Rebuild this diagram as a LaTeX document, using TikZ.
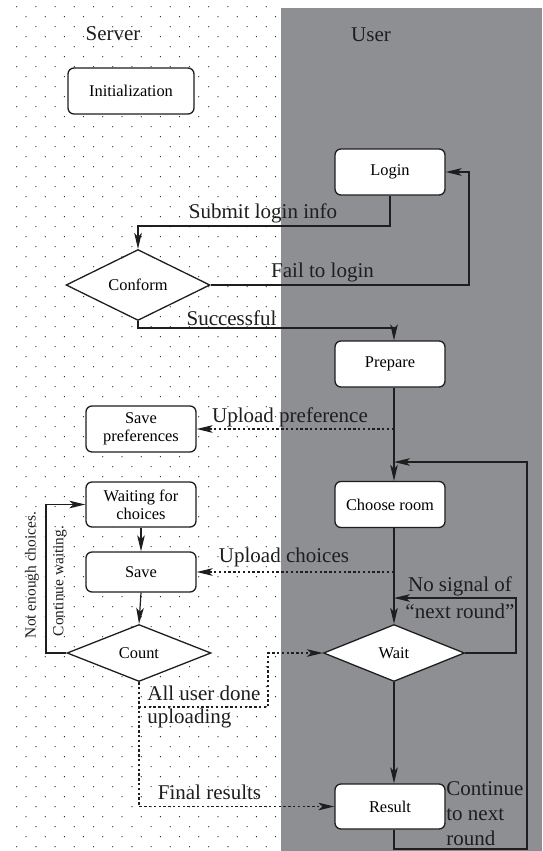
\documentclass[tikz,border=0pt]{standalone}
\usepackage{fontspec}
\setmainfont{Liberation Serif}
\usetikzlibrary{shapes.geometric,arrows.meta}

\definecolor{lanegray}{RGB}{142,143,147}
\definecolor{inkgray}{RGB}{30,30,30}

\tikzset{
  stepbox/.style={draw=inkgray, line width=0.65pt, fill=white, rounded corners=3pt,
    minimum width=55pt, minimum height=23pt, align=center, inner sep=1pt,
    font=\fontsize{8.2}{9.2}\selectfont},
  decision/.style={diamond, draw=inkgray, line width=0.65pt, fill=white,
    minimum width=72pt, minimum height=28.5pt, inner sep=0pt,
    font=\fontsize{8.2}{9.2}\selectfont},
  arr/.style={-{Stealth[length=8pt,width=3.8pt,inset=2pt]}, line width=0.6pt, draw=inkgray},
  dotarr/.style={arr, dash pattern=on 1.2pt off 1.2pt},
  lbl/.style={font=\fontsize{10.5}{11.5}\selectfont, inner sep=0pt, text=inkgray}
}

\begin{document}
\begin{tikzpicture}[x=0.5pt,y=-0.5pt]
    \useasboundingbox (0,0) rectangle (542,851);

    % Dotted server lane and gray user lane
    \foreach \r in {0,...,84} {
      \pgfmathsetmacro{\xs}{mod(\r,2)==0 ? 16.7 : 26}
      \foreach \k in {0,...,13}
        \fill[inkgray] (\xs+19.2*\k, 6.7+10*\r) circle (0.32pt);
    }
    \fill[lanegray] (281,8) rectangle (542,851);

    % Lane titles
    \node[lbl] (tServer) at (113,34) {Server};
    \node[lbl] (tUser) at (371,35) {User};

    % Boxes and decisions
    \node[stepbox, minimum width=63pt] (Init) at (131,91) {Initialization};
    \node[stepbox] (Login) at (390,172) {Login};
    \node[decision] (Conform) at (138,285) {Conform};
    \node[stepbox] (Prepare) at (390,364) {Prepare};
    \node[stepbox] (SavePref) at (141,429) {Save\\preferences};
    \node[stepbox] (Choose) at (390,504.5) {Choose room};
    \node[stepbox, minimum height=22.5pt] (Waiting) at (141,504.5) {Waiting for\\choices};
    \node[stepbox, minimum height=20pt] (Save) at (141,572) {Save};
    \node[decision] (Count) at (139,653) {Count};
    \node[decision, minimum width=70.5pt] (Wait) at (394,653) {Wait};
    \node[stepbox, minimum height=22.5pt] (Result) at (390,806.5) {Result};

    % Bends of the connectors
    \coordinate (sub) at (138,226);
    \coordinate (fail) at (469,0);
    \coordinate (succ) at (394,328);
    \coordinate (nosig) at (516,598);
    \coordinate (top) at (527,462);
    \coordinate (bot) at (527,849);
    \coordinate (nec) at (46,580);
    \coordinate (alld) at (268,707);

    % Login part
    \draw[arr] (Login.south) |- (sub) -- (Conform.north);
    \draw[arr] (Conform.east) -- (Conform.east -| fail) -- (Login.east -| fail) -- (Login.east);
    \draw[arr] (Conform.south) |- (succ) -- (succ |- Prepare.north);

    % User side
    \draw[arr] (Prepare.south -| Wait) -- (Choose.north -| Wait);
    \draw[arr] (Choose.south -| Wait) -- (Wait.north);
    \draw[arr] (Wait.east) -| (nosig) -- (nosig -| Wait);
    \draw[arr] (Wait.south) -- (Result.north -| Wait);
    \draw[arr] (Result.south -| Wait) -- (Wait |- bot) -- (bot) -- (bot |- top) -- (top -| Wait);

    % Server side
    \draw[arr] (Waiting.south) -- (Save.north);
    \draw[arr] (Save.south) -- (Count.north);
    \draw[arr] (Count.west) -| (nec) |- (Waiting.west);

    % Uploads and results
    \draw[dotarr] (SavePref.east -| Wait) -- (SavePref.east);
    \draw[dotarr] (Save.east -| Wait) -- (Save.east);
    \draw[dotarr] (Count.south) |- (Result.west);
    \draw[dotarr] (Count.south |- alld) -- (alld) |- (Wait.west);

    % Connector labels
    \node[lbl] (tSubmit) at (263,213) {Submit login info};
    \node[lbl] (tFail) at (322.5,272) {Fail to login};
    \node[lbl] (tSucc) at (231.5,318) {Successful};
    \node[lbl] (tUpPref) at (290,417) {Upload preference};
    \node[lbl] (tUpCh) at (284,557) {Upload choices};
    \node[lbl, align=center, font=\fontsize{10.5}{13.5}\selectfont] (tNoSig) at (460,598) {No signal of\\“next round”};
    \node[lbl, align=left, anchor=west] (tAll) at (147,707) {All user done\\uploading};
    \node[lbl] (tFinal) at (209.5,792) {Final results};
    \node[lbl, align=left, anchor=west, font=\fontsize{10.5}{12.5}\selectfont] (tCont) at (446,814) {Continue\\to next\\round};
    \node[lbl, rotate=90, font=\fontsize{7.7}{9}\selectfont] (tNot) at (32,575) {Not enough choices.};
    \node[lbl, rotate=90, font=\fontsize{7.7}{9}\selectfont] (tCw) at (60,581) {Continue waiting.};

\end{tikzpicture}
\end{document}
